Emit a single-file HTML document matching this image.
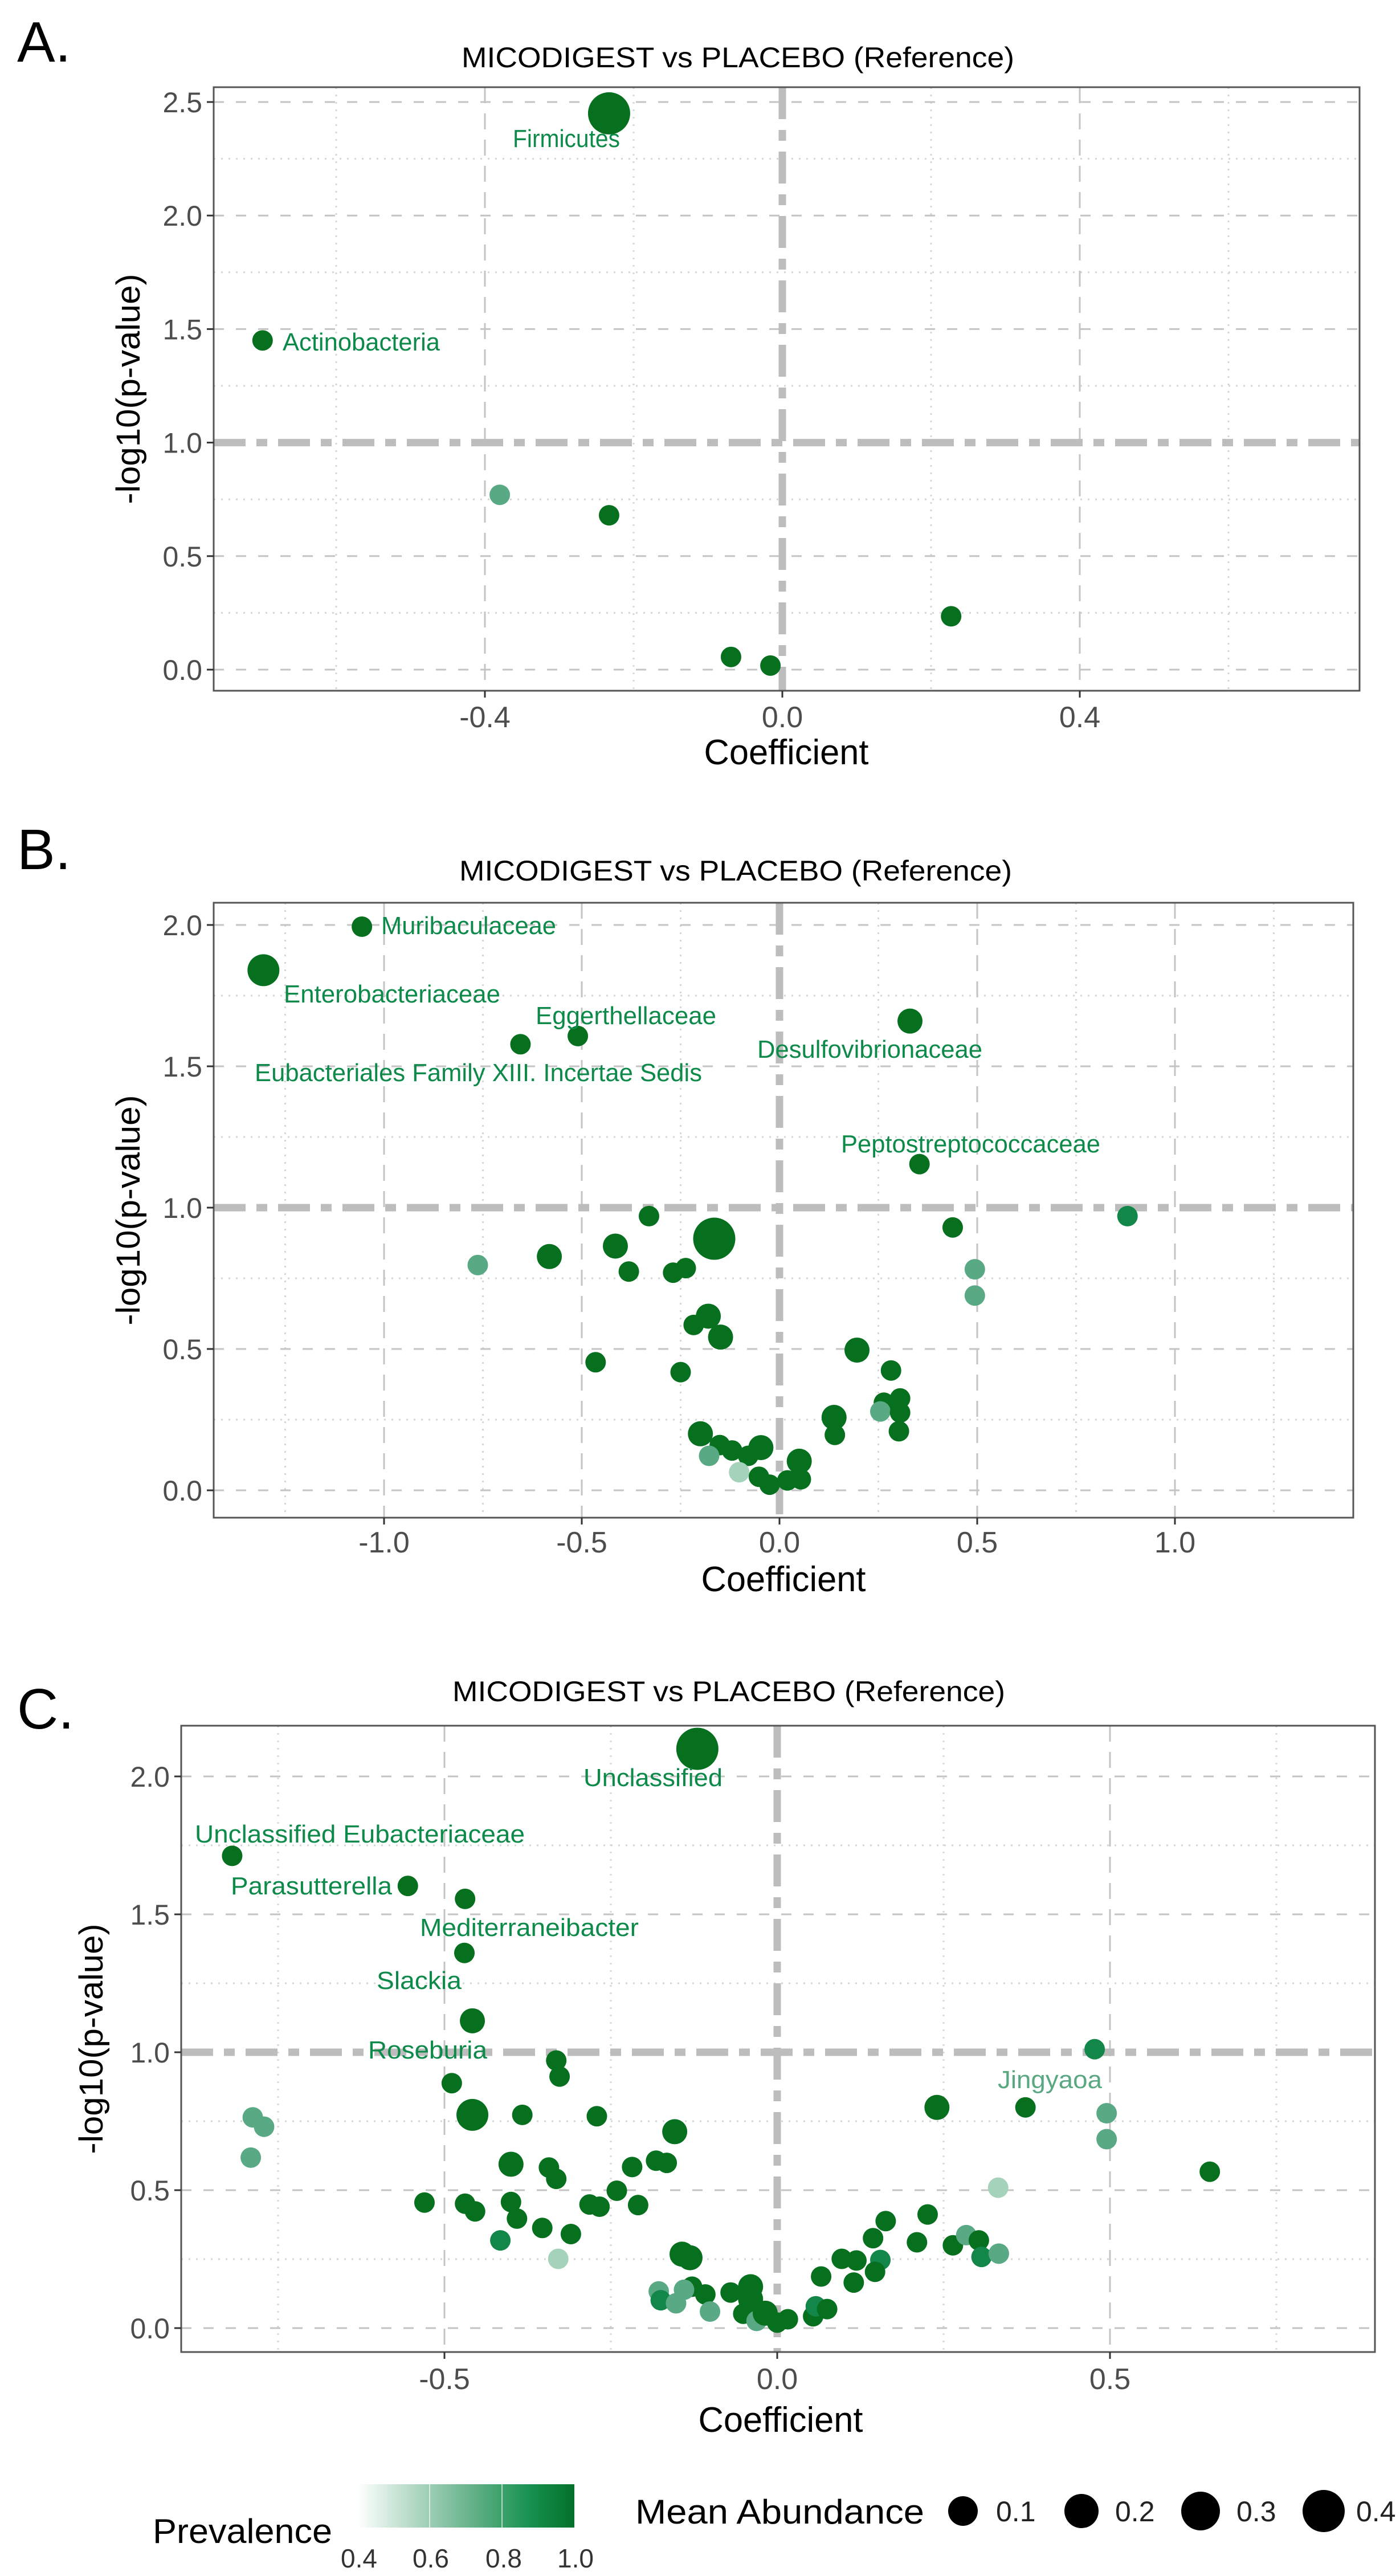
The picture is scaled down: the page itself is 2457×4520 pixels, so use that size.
<!DOCTYPE html>
<html><head><meta charset="utf-8">
<style>
html,body{margin:0;padding:0;background:#fff;}
svg{display:block;}
text{font-family:"Liberation Sans",Arial,sans-serif;}
</style></head>
<body>
<svg id="s" width="2457" height="4520" viewBox="0 0 2457 4520" xmlns="http://www.w3.org/2000/svg">
<rect width="2457" height="4520" fill="#fff"/>
<defs>
<linearGradient id="pg" x1="0" x2="1" y1="0" y2="0">
<stop offset="0" stop-color="#ffffff"/>
<stop offset="0.5" stop-color="#6cb58f"/>
<stop offset="0.8" stop-color="#16904f"/>
<stop offset="1" stop-color="#04702a"/>
</linearGradient>
</defs>
<!-- panel letters -->
<text x="30" y="108" font-size="100">A.</text>
<text x="30" y="1525" font-size="100">B.</text>
<text x="30" y="3033" font-size="100">C.</text>
<g id="g"></g>
<!-- legend -->
<text x="268" y="4462" font-size="60" textLength="315" lengthAdjust="spacingAndGlyphs">Prevalence</text>
<rect x="627" y="4359" width="381" height="76" fill="url(#pg)"/>
<line x1="754" y1="4359" x2="754" y2="4435" stroke="#fff" stroke-width="2" opacity="0.6"/>
<line x1="881" y1="4359" x2="881" y2="4435" stroke="#fff" stroke-width="2" opacity="0.6"/>
<text x="630" y="4505" font-size="46" text-anchor="middle" fill="#333">0.4</text>
<text x="756" y="4505" font-size="46" text-anchor="middle" fill="#333">0.6</text>
<text x="884" y="4505" font-size="46" text-anchor="middle" fill="#333">0.8</text>
<text x="1010" y="4505" font-size="46" text-anchor="middle" fill="#333">1.0</text>
<text x="1115" y="4428" font-size="60" textLength="507" lengthAdjust="spacingAndGlyphs">Mean Abundance</text>
<circle cx="1690" cy="4406" r="26" fill="#000"/>
<text x="1748" y="4424" font-size="50" fill="#222">0.1</text>
<circle cx="1898" cy="4406" r="30" fill="#000"/>
<text x="1957" y="4424" font-size="50" fill="#222">0.2</text>
<circle cx="2107" cy="4406" r="34" fill="#000"/>
<text x="2170" y="4424" font-size="50" fill="#222">0.3</text>
<circle cx="2323" cy="4406" r="37" fill="#000"/>
<text x="2380" y="4424" font-size="50" fill="#222">0.4</text>
</svg>
<script>
(function(){
var NS="http://www.w3.org/2000/svg",g=document.getElementById("g");
function el(t,a,txt){var e=document.createElementNS(NS,t);for(var k in a)e.setAttribute(k,a[k]);if(txt!==undefined)e.textContent=txt;g.appendChild(e);return e;}
var R={s:18,m:22,l:28,x:37};
var C={d:"#06701f",m:"#13874a",l:"#5aa985",v:"#a5d2bb"};
var LC="#0d8a4a";
function panel(P){
 var X=function(v){return P.xz+v*P.xs;},Y=function(v){return P.yz-v*P.ys;};
 var f=P.f;
 // minor grid
 P.xmin.forEach(function(v){el("line",{x1:X(v),x2:X(v),y1:f[1],y2:f[3],stroke:"#d6d6d6","stroke-width":3,"stroke-dasharray":"3 10"});});
 P.ymin.forEach(function(v){el("line",{x1:f[0],x2:f[2],y1:Y(v),y2:Y(v),stroke:"#d6d6d6","stroke-width":3,"stroke-dasharray":"3 10"});});
 // major grid
 P.xmaj.forEach(function(v){el("line",{x1:X(v),x2:X(v),y1:f[1],y2:f[3],stroke:"#c4c4c4","stroke-width":3,"stroke-dasharray":"28 18"});});
 P.ymaj.forEach(function(v){if(v!==1)el("line",{x1:f[0],x2:f[2],y1:Y(v),y2:Y(v),stroke:"#c4c4c4","stroke-width":3,"stroke-dasharray":"18 21"});});
 // thresholds
 el("line",{x1:f[0],x2:f[2],y1:Y(1),y2:Y(1),stroke:"#bdbdbd","stroke-width":13,"stroke-dasharray":"56 19 19 19"});
 el("line",{x1:X(0),x2:X(0),y1:f[1],y2:f[3],stroke:"#bdbdbd","stroke-width":13,"stroke-dasharray":"56 19 19 19"});
 // points
 P.pts.forEach(function(p){el("circle",{cx:X(p[0]),cy:Y(p[1]),r:R[p[2]||"s"],fill:C[p[3]||"d"]});});
 // labels
 P.lab.forEach(function(l){el("text",{x:l[1],y:l[2],"font-size":44,fill:l[4]||LC,textLength:l[3],lengthAdjust:"spacingAndGlyphs"},l[0]);});
 // frame
 el("rect",{x:f[0],y:f[1],width:f[2]-f[0],height:f[3]-f[1],fill:"none",stroke:"#555","stroke-width":3});
 // ticks
 P.yt.forEach(function(v){var y=Y(v);el("line",{x1:f[0]-12,x2:f[0],y1:y,y2:y,stroke:"#333","stroke-width":3});
   el("text",{x:f[0]-20,y:y+18,"font-size":50,"text-anchor":"end",fill:"#4d4d4d"},v.toFixed(1));});
 P.xt.forEach(function(v){var x=X(v);el("line",{x1:x,x2:x,y1:f[3],y2:f[3]+12,stroke:"#333","stroke-width":3});
   el("text",{x:x,y:P.xtb,"font-size":52,"text-anchor":"middle",fill:"#4d4d4d"},v.toFixed(1));});
 // titles
 el("text",{x:P.tx,y:P.ty,"font-size":50,"text-anchor":"middle",textLength:970,lengthAdjust:"spacingAndGlyphs"},"MICODIGEST vs  PLACEBO (Reference)");
 el("text",{x:P.cx,y:P.cy,"font-size":62,"text-anchor":"middle",textLength:289,lengthAdjust:"spacingAndGlyphs"},"Coefficient");
 var my=(f[1]+f[3])/2;
 el("text",{x:P.yx,y:my,"font-size":58,"text-anchor":"middle",transform:"rotate(-90 "+P.yx+" "+my+")",textLength:404,lengthAdjust:"spacingAndGlyphs"},"-log10(p-value)");
}
// Panel A
panel({xz:1373,xs:1305,yz:1175,ys:398.4,f:[375,153,2386,1212],
 xmin:[-0.6,-0.2,0.2,0.6],xmaj:[-0.4,0.4],ymin:[0.25,0.75,1.25,1.75,2.25],ymaj:[0,0.5,1.5,2,2.5],
 yt:[0,0.5,1,1.5,2,2.5],xt:[-0.4,0,0.4],xtb:1276,tx:1295,ty:118,cx:1380,cy:1341,yx:245,
 pts:[[-0.233,2.45,"x"],[-0.699,1.45],[-0.38,0.77,"s","l"],[-0.233,0.68],[0.227,0.235],[-0.069,0.056],[-0.016,0.018]],
 lab:[["Firmicutes",900,258,188],["Actinobacteria",496,615,276]]});
// Panel B
panel({xz:1368,xs:694,yz:2615,ys:496,f:[375,1584,2375,2663],
 xmin:[-1.25,-0.75,-0.25,0.25,0.75,1.25],xmaj:[-1,-0.5,0.5,1],ymin:[0.25,0.75,1.25,1.75],ymaj:[0,0.5,1.5,2],
 yt:[0,0.5,1,1.5,2],xt:[-1,-0.5,0,0.5,1],xtb:2724,tx:1291,ty:1545,cx:1375,cy:2792,yx:245,
 pts:[[-1.056,1.994],[-1.305,1.84,"l"],[-0.51,1.607],[-0.655,1.578],[0.33,1.66,"m"],[0.354,1.154],
 [-0.33,0.97],[0.88,0.97,"s","m"],[0.438,0.93],[-0.165,0.89,"x"],[-0.415,0.864,"m"],[-0.582,0.827,"m"],
 [-0.763,0.797,"s","l"],[-0.381,0.774],[-0.269,0.77],[-0.237,0.786],[0.494,0.782,"s","l"],[0.494,0.689,"s","l"],
 [-0.18,0.616,"m"],[-0.217,0.585],[-0.149,0.542,"m"],[0.196,0.496,"m"],[-0.465,0.453],[-0.25,0.418],[0.282,0.424],
 [0.305,0.325],[0.264,0.31],[0.255,0.279,"s","l"],[0.305,0.275],[0.138,0.258,"m"],[0.14,0.196],[0.302,0.209],
 [-0.2,0.2,"m"],[-0.151,0.16],[-0.178,0.122,"s","l"],[-0.12,0.141],[-0.079,0.122],[-0.047,0.151,"m"],
 [-0.102,0.064,"s","v"],[-0.052,0.048],[0.05,0.103,"m"],[-0.025,0.02],[0.02,0.035],[0.054,0.039]],
 lab:[["Muribaculaceae",669,1639,307],["Enterobacteriaceae",498,1759,380],["Eggerthellaceae",940,1797,317],
 ["Desulfovibrionaceae",1329,1856,395],["Eubacteriales Family XIII. Incertae Sedis",447,1897,785],["Peptostreptococcaceae",1476,2022,455]]});
// Panel C
panel({xz:1364,xs:1168,yz:4085,ys:484,f:[318,3028,2413,4127],
 xmin:[-0.75,-0.25,0.25,0.75],xmaj:[-0.5,0.5],ymin:[0.25,0.75,1.25,1.75],ymaj:[0,0.5,1.5,2],
 yt:[0,0.5,1,1.5,2],xt:[-0.5,0,0.5],xtb:4192,tx:1279,ty:2985,cx:1370,cy:4267,yx:180,
 pts:[[-0.12,2.10,"x"],[-0.819,1.712],[-0.555,1.603],[-0.469,1.556],[-0.47,1.36],[-0.458,1.114,"m"],
 [0.477,1.011,"s","m"],[-0.332,0.97],[-0.327,0.912],[-0.489,0.888],[-0.458,0.773,"l"],[-0.383,0.773],[-0.271,0.768],
 [-0.788,0.764,"s","l"],[-0.771,0.73,"s","l"],[-0.791,0.618,"s","l"],[0.24,0.80,"m"],[0.373,0.80],[0.495,0.779,"s","l"],
 [0.495,0.685,"s","l"],[0.65,0.567],[-0.154,0.712,"m"],[-0.4,0.594,"m"],[-0.343,0.582],[-0.332,0.541],[-0.218,0.584],
 [-0.182,0.607],[-0.166,0.599],[-0.241,0.498],[0.332,0.509,"s","v"],[-0.53,0.455],[-0.469,0.451],[-0.454,0.423],
 [-0.4,0.457],[-0.282,0.448],[-0.267,0.44],[-0.209,0.446],[-0.391,0.397],[-0.353,0.363],[-0.31,0.341],
 [-0.416,0.318,"s","m"],[-0.329,0.251,"s","v"],[0.226,0.412],[0.163,0.388],[0.144,0.326],[0.21,0.311],[0.264,0.30],
 [0.284,0.337,"s","l"],[0.303,0.318],[0.307,0.258,"s","m"],[0.333,0.27,"s","l"],[0.155,0.247,"s","m"],[0.147,0.204],
 [0.097,0.251],[0.119,0.245],[0.066,0.187],[0.115,0.165],[-0.143,0.268,"m"],[-0.131,0.255,"m"],[-0.128,0.15],
 [-0.108,0.122],[-0.14,0.139,"s","l"],[-0.178,0.133,"s","l"],[-0.175,0.101,"s","m"],[-0.152,0.09,"s","l"],
 [-0.101,0.06,"s","l"],[-0.07,0.129],[-0.04,0.15,"m"],[-0.04,0.105,"m"],[-0.051,0.052],[-0.031,0.026,"s","l"],
 [-0.018,0.054,"m"],[0.0,0.02],[0.016,0.032],[0.054,0.043],[0.058,0.079,"s","m"],[0.075,0.069]],
 lab:[["Unclassified",1024,3134,244],["Unclassified Eubacteriaceae",342,3233,579],["Parasutterella",405,3324,283],
 ["Mediterraneibacter",737,3397,384],["Slackia",661,3490,149],["Roseburia",646,3612,209],["Jingyaoa",1751,3664,183,"#5aa882"]]});
})();
</script>
</body></html>
